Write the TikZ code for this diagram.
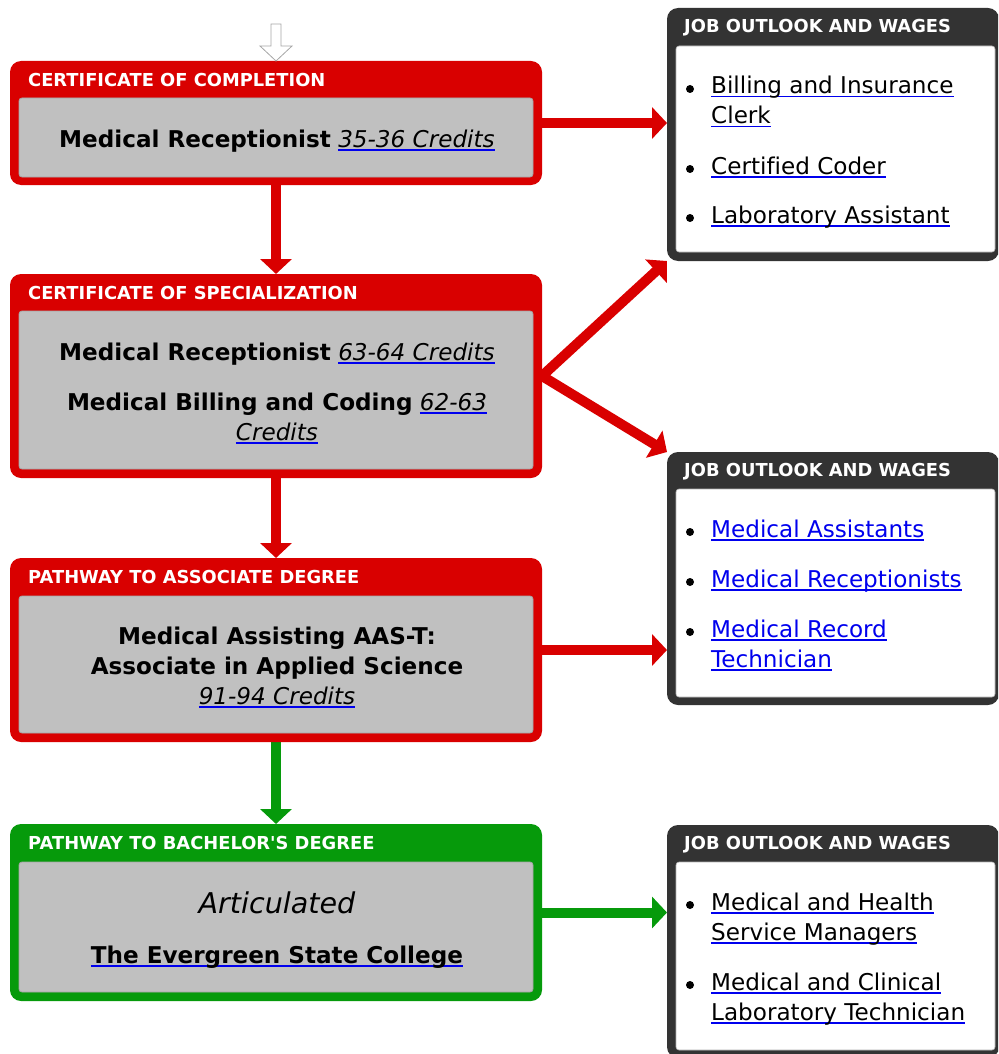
\documentclass[tikz,border=0pt]{standalone}
\usepackage{fontspec}
\setmainfont{DejaVu Sans}[Ligatures=NoCommon]
\usetikzlibrary{arrows.meta}
\definecolor{pred}{HTML}{D90000}
\definecolor{pgreen}{HTML}{069A0B}
\definecolor{pgray}{HTML}{C0C0C0}
\definecolor{pdark}{HTML}{333333}
\definecolor{lblue}{HTML}{0000EE}
\pgfdeclarelayer{bg}
\pgfsetlayers{bg,main}
\newsavebox\ulbox
\newcommand\bul[1]{\sbox\ulbox{#1}\rlap{\textcolor{lblue}{\rule[-3.5pt]{\wd\ulbox}{1.5pt}}}\usebox\ulbox}
\begin{document}
\begin{tikzpicture}[x=1pt,y=-1pt,
 outerbox/.style={rounded corners=11pt, inner sep=0, outer sep=0, minimum width=532pt},
 redbox/.style={outerbox, fill=pred},
 greenbox/.style={outerbox, fill=pgreen},
 innerbox/.style={fill=pgray, draw=black!35, line width=0.8pt, rounded corners=3pt, inner sep=0, outer sep=0, minimum width=514pt},
 jobbox/.style={fill=pdark, rounded corners=11pt, inner sep=0, outer sep=0, minimum width=332pt},
 jobinner/.style={fill=white, draw=black!30, line width=0.6pt, rounded corners=3pt, inner sep=0, outer sep=0, minimum width=319pt},
 hdr/.style={anchor=base west, inner sep=0, text=white, font=\bfseries\fontsize{17.85}{21}\selectfont},
 body/.style={anchor=base, inner sep=0, font=\fontsize{23.1}{30}\selectfont},
 item/.style={anchor=base west, inner sep=0, font=\fontsize{23.1}{30}\selectfont},
 link/.style={item, text=lblue},
 bullet/.style={circle, fill=black, inner sep=0, minimum size=8pt},
 conn/.style={line width=10pt, -{Triangle[length=15pt,width=31pt]}},
 redarr/.style={conn, draw=pred},
 greenarr/.style={conn, draw=pgreen},
 whitearr/.style={fill=white, draw=black!35, line width=0.8pt},
]
\clip (0,0) rectangle (998,1054);

% ---------- left boxes ----------
\node[redbox, minimum height=124pt] (b1) at (276,123) {};
\node[innerbox, minimum height=79pt] (g1) at (276,137.5) {};
\node[hdr] (h1) at (28,86.5) {CERTIFICATE OF COMPLETION};
\node[body] (t1) at (277,147) {\textbf{Medical Receptionist} {\itshape\bul{35-36 Credits}}};

\node[redbox, minimum height=204pt] (b2) at (276,376) {};
\node[innerbox, minimum height=158pt] (g2) at (276,390) {};
\node[hdr] (h2) at (28,299.5) {CERTIFICATE OF SPECIALIZATION};
\node[body] (t2a) at (277,360) {\textbf{Medical Receptionist} {\itshape\bul{63-64 Credits}}};
\node[body] (t2b) at (277,410) {\textbf{Medical Billing and Coding} {\itshape\bul{62-63}}};
\node[body] (t2c) at (277,440) {\itshape\bul{Credits}};

\node[redbox, minimum height=184pt] (b3) at (276,650) {};
\node[innerbox, minimum height=137pt] (g3) at (276,664.5) {};
\node[hdr] (h3) at (28,583.5) {PATHWAY TO ASSOCIATE DEGREE};
\node[body] (t3a) at (277,644) {\textbf{Medical Assisting AAS-T:}};
\node[body] (t3b) at (277,674) {\textbf{Associate in Applied Science}};
\node[body] (t3c) at (277,704) {\itshape\bul{91-94 Credits}};

\node[greenbox, minimum height=177pt] (b4) at (276,912.5) {};
\node[innerbox, minimum height=130pt] (g4) at (276,927) {};
\node[hdr] (h4) at (28,849.5) {PATHWAY TO BACHELOR\textquotesingle S DEGREE};
\node[body, font=\itshape\fontsize{28.6}{34}\selectfont] (t4a) at (277,913) {Articulated};
\node[body] (t4b) at (277,963) {\bfseries\bul{The Evergreen State College}};

% ---------- job boxes ----------
\node[jobbox, minimum height=253pt] (j1) at (833,134.5) {};
\node[jobinner, minimum height=206pt] (w1) at (835.5,149) {};
\node[hdr] (jh1) at (684,32.5) {JOB OUTLOOK AND WAGES};
\node[bullet] (p1a) at (690,89) {};
\node[item] (i1a) at (711,94) {\bul{Billing and Insurance}};
\node[item] (i1b) at (711,124) {\bul{Clerk}};
\node[bullet] (p1b) at (690,169) {};
\node[item] (i1c) at (711,174) {\bul{Certified Coder}};
\node[bullet] (p1c) at (690,218) {};
\node[item] (i1d) at (711,223) {\bul{Laboratory Assistant}};

\node[jobbox, minimum height=253pt] (j2) at (833,578.5) {};
\node[jobinner, minimum height=208pt] (w2) at (835.5,593) {};
\node[hdr] (jh2) at (684,476.5) {JOB OUTLOOK AND WAGES};
\node[bullet] (p2a) at (690,532) {};
\node[link] (i2a) at (711,537) {\bul{Medical Assistants}};
\node[bullet] (p2b) at (690,582) {};
\node[link] (i2b) at (711,587) {\bul{Medical Receptionists}};
\node[bullet] (p2c) at (690,632) {};
\node[link] (i2c) at (711,637) {\bul{Medical Record}};
\node[link] (i2d) at (711,667) {\bul{Technician}};

\node[jobbox, minimum height=233pt] (j3) at (833,941.5) {};
\node[jobinner, minimum height=188pt] (w3) at (835.5,956) {};
\node[hdr] (jh3) at (684,849.5) {JOB OUTLOOK AND WAGES};
\node[bullet] (p3a) at (690,905) {};
\node[item] (i3a) at (711,910) {\bul{Medical and Health}};
\node[item] (i3b) at (711,940) {\bul{Service Managers}};
\node[bullet] (p3b) at (690,985) {};
\node[item] (i3c) at (711,990) {\bul{Medical and Clinical}};
\node[item] (i3d) at (711,1020) {\bul{Laboratory Technician}};

% ---------- connectors ----------
\begin{pgfonlayer}{bg}
\draw[redarr] (b1.south) -- (b2.north);
\draw[redarr] (b2.south) -- (b3.north);
\draw[greenarr] (b3.south) -- (b4.north);
\draw[redarr] (b1.east) -- (b1.east -| j1.west);
\draw[redarr] (b2.east) -- (j1.south west);
\draw[redarr] (b2.east) -- (j2.north west);
\draw[redarr] (b3.east) -- (b3.east -| j2.west);
\draw[greenarr] (b4.east) -- (b4.east -| j3.west);
\end{pgfonlayer}
\coordinate (entry) at (b1.north);
\draw[whitearr] (entry) -- ++(-16,-15) -- ++(11,0) -- ++(0,-22) -- ++(10,0) -- ++(0,22) -- ++(11,0) -- cycle;
\end{tikzpicture}
\end{document}
